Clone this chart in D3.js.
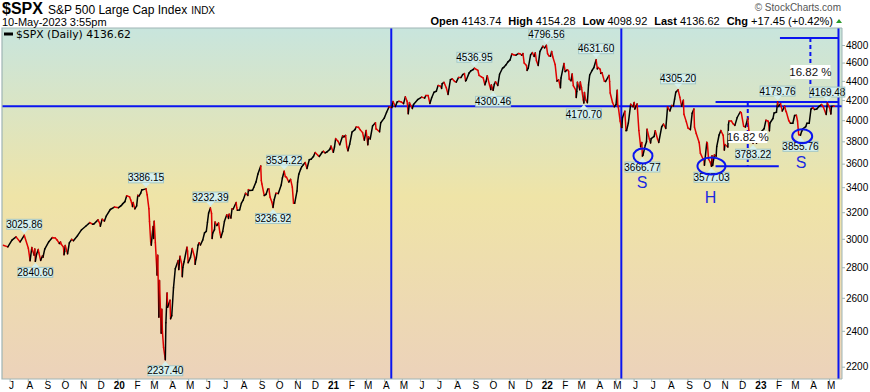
<!DOCTYPE html>
<html><head><meta charset="utf-8">
<script src="https://cdn.jsdelivr.net/npm/d3@7/dist/d3.min.js"></script>
<style>
body{margin:0;background:#fff;}
svg{display:block;font-family:"Liberation Sans",Arial,sans-serif;}
</style></head>
<body><svg id="c" width="870" height="392"></svg>
<script>
// ---------- DATA ----------
// weekly closes (plus swing points)
const dates = ["2019-06-20","2019-06-28","2019-07-05","2019-07-12","2019-07-19","2019-07-26","2019-08-02","2019-08-05","2019-08-09","2019-08-14","2019-08-16","2019-08-23","2019-08-30","2019-09-06","2019-09-13","2019-09-20","2019-09-27","2019-10-02","2019-10-04","2019-10-11","2019-10-18","2019-10-25","2019-11-01","2019-11-08","2019-11-15","2019-11-22","2019-11-29","2019-12-03","2019-12-06","2019-12-13","2019-12-20","2019-12-27",
"2020-01-03","2020-01-10","2020-01-17","2020-01-24","2020-01-31","2020-02-07","2020-02-14","2020-02-19","2020-02-21","2020-02-24","2020-02-25","2020-02-27","2020-02-28","2020-03-02","2020-03-03","2020-03-04","2020-03-06","2020-03-09","2020-03-10","2020-03-12","2020-03-13","2020-03-16","2020-03-17","2020-03-18","2020-03-20","2020-03-23","2020-03-24","2020-03-26","2020-03-27","2020-03-31","2020-04-01","2020-04-03","2020-04-06","2020-04-09","2020-04-14","2020-04-17","2020-04-21","2020-04-24","2020-04-29","2020-05-01","2020-05-08","2020-05-14","2020-05-15","2020-05-22","2020-05-29","2020-06-05","2020-06-08","2020-06-11","2020-06-12","2020-06-19","2020-06-26","2020-07-02","2020-07-10","2020-07-17","2020-07-24","2020-07-31","2020-08-07","2020-08-14","2020-08-21","2020-08-28","2020-09-02","2020-09-04","2020-09-08","2020-09-11","2020-09-18","2020-09-23","2020-09-25","2020-10-02","2020-10-09","2020-10-12","2020-10-16","2020-10-23","2020-10-30","2020-11-06","2020-11-13","2020-11-20","2020-11-27","2020-12-04","2020-12-11","2020-12-18","2020-12-24","2020-12-31",
"2021-01-08","2021-01-15","2021-01-22","2021-01-29","2021-02-05","2021-02-12","2021-02-19","2021-02-26","2021-03-04","2021-03-05","2021-03-12","2021-03-19","2021-03-26","2021-04-01","2021-04-09","2021-04-16","2021-04-23","2021-04-30","2021-05-07","2021-05-12","2021-05-14","2021-05-21","2021-05-28","2021-06-04","2021-06-11","2021-06-18","2021-06-25","2021-07-02","2021-07-09","2021-07-16","2021-07-19","2021-07-23","2021-07-30","2021-08-06","2021-08-13","2021-08-19","2021-08-27","2021-09-02","2021-09-10","2021-09-17","2021-09-20","2021-09-24","2021-09-30","2021-10-04","2021-10-08","2021-10-15","2021-10-22","2021-10-29","2021-11-05","2021-11-12","2021-11-19","2021-11-26","2021-11-30","2021-12-03","2021-12-10","2021-12-17","2021-12-20","2021-12-23","2021-12-31",
"2022-01-03","2022-01-07","2022-01-14","2022-01-21","2022-01-27","2022-01-28","2022-02-04","2022-02-11","2022-02-18","2022-02-23","2022-02-25","2022-03-04","2022-03-08","2022-03-11","2022-03-18","2022-03-25","2022-03-29","2022-04-01","2022-04-08","2022-04-14","2022-04-22","2022-04-26","2022-04-29","2022-05-04","2022-05-06","2022-05-11","2022-05-13","2022-05-20","2022-05-27","2022-06-03","2022-06-10","2022-06-16","2022-06-17","2022-06-24","2022-07-01","2022-07-08","2022-07-14","2022-07-22","2022-07-29","2022-08-05","2022-08-12","2022-08-16","2022-08-19","2022-08-26","2022-09-02","2022-09-09","2022-09-12","2022-09-16","2022-09-23","2022-09-30","2022-10-04","2022-10-07","2022-10-12","2022-10-14","2022-10-21","2022-10-28","2022-11-04","2022-11-11","2022-11-18","2022-11-25","2022-12-01","2022-12-02","2022-12-09","2022-12-13","2022-12-16","2022-12-22","2022-12-23","2022-12-30",
"2023-01-05","2023-01-06","2023-01-13","2023-01-20","2023-01-27","2023-02-02","2023-02-03","2023-02-10","2023-02-17","2023-02-24","2023-03-03","2023-03-10","2023-03-13","2023-03-17","2023-03-24","2023-03-31","2023-04-06","2023-04-14","2023-04-21","2023-04-25","2023-04-28","2023-05-04","2023-05-05","2023-05-10"];
const closes = [2954,2942,2990,3014,2977,3025.86,2932,2845,2919,2840.60,2889,2847,2926,2979,3007,2992,2962,2887,2952,2970,2986,3023,3067,3093,3120,3110,3141,3093,3146,3169,3221,3240,
3235,3265,3330,3295,3226,3328,3380,3386.15,3338,3226,3128,2979,2954,3090,3003,3130,2972,2747,2882,2481,2711,2386,2529,2398,2305,2237.40,2447,2630,2541,2585,2471,2489,2664,2790,2846,2875,2737,2837,2940,2831,2930,2852,2864,2955,3044,3194,3232.39,3002,3041,3098,3009,3130,3185,3225,3216,3271,3351,3373,3397,3508,3580,3427,3332,3341,3319,3236.92,3298,3348,3477,3534.22,3483,3465,3270,3509,3585,3558,3638,3699,3663,3709,3703,3756,
3825,3768,3841,3714,3887,3934,3907,3811,3768,3842,3943,3913,3975,4020,4129,4185,4180,4181,4233,4063,4174,4156,4204,4230,4247,4166,4281,4352,4370,4327,4258,4412,4395,4437,4468,4406,4509,4536.95,4459,4433,4358,4455,4308,4300.46,4391,4471,4545,4605,4697,4683,4698,4595,4567,4538,4712,4620,4568,4726,4766,
4796.56,4677,4663,4398,4327,4432,4500,4419,4349,4226,4385,4329,4170.70,4204,4463,4543,4631.60,4546,4488,4393,4272,4175,4132,4300,4123,3935,4024,3901,4158,4109,3901,3666.77,3675,3912,3825,3899,3790,3962,4130,4145,4280,4305.20,4228,4058,3924,4067,4110,3873,3693,3586,3791,3640,3577.03,3583,3752,3901,3771,3993,3965,4026,4077,4072,3934,4019,3852,3783.22,3845,3840,
3808,3895,3999,3973,4071,4179.76,4136,4090,4079,3970,4046,3862,3855.76,3917,3971,4109,4105,4137,4133,4071,4169.48,4061,4136,4136.62];

// mid-week closes read between the weekly points
const extraDates = ["2019-08-08","2019-08-12","2019-08-13","2019-08-19","2019-08-20","2019-08-26","2019-08-27","2019-09-12","2019-09-17","2019-09-24","2019-09-26","2019-10-01","2019-10-03","2019-10-08","2019-10-15","2019-11-20","2019-12-02","2019-12-10",
"2020-01-06","2020-01-08","2020-01-14","2020-01-22","2020-01-27","2020-01-28","2020-02-03","2020-02-05","2020-02-10","2020-02-12","2020-04-15","2020-04-20","2020-04-22","2020-04-30","2020-05-05","2020-05-12","2020-05-13","2020-05-18","2020-05-20","2020-05-26","2020-06-01","2020-06-03","2020-06-10","2020-06-15","2020-06-16","2020-06-22","2020-06-24","2020-06-29","2020-07-06","2020-07-09","2020-07-13","2020-07-15","2020-07-22","2020-07-23","2020-07-28","2020-08-03","2020-08-11","2020-08-12","2020-08-19","2020-08-25","2020-09-03","2020-09-10","2020-09-14","2020-09-16","2020-09-21","2020-09-28","2020-10-07","2020-10-14","2020-10-20","2020-10-26","2020-10-28","2020-11-03","2020-11-04","2020-11-09","2020-11-11","2020-11-17","2020-11-24","2020-12-01","2020-12-09","2020-12-16","2020-12-21","2020-12-29",
"2021-01-04","2021-01-06","2021-01-12","2021-01-20","2021-01-25","2021-01-27","2021-02-01","2021-02-10","2021-02-16","2021-02-23","2021-02-25","2021-03-01","2021-03-08","2021-03-17","2021-03-18","2021-03-24","2021-04-05","2021-04-14","2021-04-20","2021-04-26","2021-05-04","2021-05-10","2021-05-19","2021-06-09","2021-06-15","2021-06-21","2021-06-29","2021-07-06","2021-07-08","2021-07-12","2021-07-26","2021-08-02","2021-08-10","2021-08-16","2021-08-18","2021-08-24","2021-08-31","2021-09-08","2021-09-14","2021-09-22","2021-09-28","2021-10-01","2021-10-06","2021-10-12","2021-10-20","2021-10-26","2021-11-02","2021-11-09","2021-11-16","2021-11-22","2021-11-24","2021-12-01","2021-12-07","2021-12-13","2021-12-15","2021-12-28",
"2022-01-05","2022-01-10","2022-01-12","2022-01-18","2022-01-24","2022-02-02","2022-02-08","2022-02-10","2022-02-14","2022-02-16","2022-02-22","2022-02-24","2022-03-01","2022-03-02","2022-03-07","2022-03-09","2022-03-14","2022-03-16","2022-03-22","2022-03-31","2022-04-05","2022-04-06","2022-04-12","2022-04-20","2022-04-21","2022-05-02","2022-05-05","2022-05-09","2022-05-12","2022-05-17","2022-05-19","2022-05-23","2022-05-31","2022-06-02","2022-06-07","2022-06-13","2022-06-15","2022-06-21","2022-06-23","2022-06-28","2022-06-30","2022-07-06","2022-07-12","2022-07-19","2022-07-26","2022-08-02","2022-08-08","2022-08-10","2022-08-22","2022-08-25","2022-08-30","2022-09-06","2022-09-13","2022-09-21","2022-09-27","2022-09-29","2022-10-05","2022-10-10","2022-10-13","2022-10-17","2022-10-20","2022-10-25","2022-11-01","2022-11-03","2022-11-09","2022-11-10","2022-11-15","2022-11-21","2022-11-30","2022-12-06","2022-12-15","2022-12-19","2022-12-21","2022-12-28",
"2023-01-03","2023-01-10","2023-01-17","2023-01-19","2023-01-25","2023-01-31","2023-02-07","2023-02-14","2023-02-16","2023-02-21","2023-02-28","2023-03-06","2023-03-08","2023-03-15","2023-03-22","2023-03-28","2023-04-03","2023-04-10","2023-04-18","2023-04-26","2023-05-02","2023-05-03","2023-05-08"];
const extraCloses = [2938,2883,2926,2923,2900,2878,2869,3009,3006,2966,2977,2940,2910,2893,2996,3108,3114,3132,
3246,3253,3283,3321,3244,3276,3249,3334,3352,3379,2784,2823,2799,2912,2868,2870,2820,2954,2972,2992,3055,3123,3190,3067,3125,3117,3050,3053,3180,3152,3155,3227,3276,3236,3218,3295,3333,3380,3375,3444,3455,3339,3383,3385,3281,3351,3419,3489,3443,3400,3271,3369,3443,3550,3573,3610,3635,3662,3672,3701,3695,3727,
3700,3748,3801,3851,3855,3750,3774,3910,3932,3881,3829,3901,3821,3974,3915,3889,4077,4124,4134,4187,4164,4188,4115,4220,4246,4224,4291,4343,4320,4384,4422,4387,4436,4479,4400,4486,4523,4514,4443,4395,4352,4357,4363,4351,4537,4575,4630,4685,4701,4682,4701,4513,4686,4669,4709,4786,
4700,4670,4726,4577,4410,4589,4521,4504,4401,4475,4304,4288,4306,4387,4201,4278,4173,4357,4512,4530,4525,4481,4397,4459,4393,4155,4147,3991,3930,4088,3900,3973,4132,4176,4161,3750,3790,3765,3796,3821,3785,3845,3819,3937,3921,4091,4140,4210,4138,4199,3986,3909,3933,3789,3647,3640,3783,3612,3669,3677,3665,3859,3856,3720,3748,3956,3992,3950,4080,3941,3895,3818,3879,3783,
3825,3919,3990,3899,4016,4077,4164,4137,4090,3997,3970,4048,3992,3892,3937,3971,4124,4110,4155,4056,4119,4091,4138];

// swing-point callouts: date, value, side (a = above, b = below)
const calloutDates  = ["2019-07-26","2019-08-14","2020-02-19","2020-03-23","2020-06-08","2020-09-23","2020-10-12","2021-09-02","2021-10-04","2022-01-03","2022-03-08","2022-03-29","2022-06-16","2022-08-16","2022-10-12","2022-12-22","2023-02-02","2023-03-13","2023-04-28"];
const calloutValues = [3025.86,2840.60,3386.15,2237.40,3232.39,3236.92,3534.22,4536.95,4300.46,4796.56,4170.70,4631.60,3666.77,4305.20,3577.03,3783.22,4179.76,3855.76,4169.48];
const calloutSides  = ["a","b","a","b","a","b","a","a","b","a","b","a","b","a","b","b","a","b","a"];

const yTicks = [2200,2400,2600,2800,3000,3200,3400,3600,3800,4000,4200,4400,4600,4800];
const lastClose = 4136.62;
const headerStats = [["Open","4143.74"],["High","4154.28"],["Low","4098.92"],["Last","4136.62"],["Chg","+17.45 (+0.42%)"]];

// pattern annotations (date, value)
const vLineDates = ["2021-04-13","2022-05-11","2023-05-17"];
const necklineValue = 4179.76, headLow = 3577.03, targetValue = 4882;
const shoulderMarks = [{d:"2022-06-17",v:3668,t:"S",rx:9.5,ry:7.5},{d:"2022-10-12",v:3579,t:"H",rx:14,ry:8.5},{d:"2023-03-16",v:3848,t:"S",rx:10,ry:7}];

// ---------- CHART ----------
const P = d3.utcParse("%Y-%m-%d");
const seen = new Set();
const data = dates.map((d,i)=>({s:d,v:closes[i]})).concat(extraDates.map((d,i)=>({s:d,v:extraCloses[i]})))
  .filter(o=>{ if(seen.has(o.s)) return false; seen.add(o.s); return true; })
  .map(o=>({d:P(o.s),v:o.v})).sort((a,b)=>a.d-b.d);
const svg = d3.select("#c");
const L=2,R=842,T=28,B=379;
const x = d3.scaleUtc().domain([P("2019-06-18"),P("2023-05-23")]).range([L,R]);
const y = d3.scaleLog().domain([2200,4800]).range([366.7,45]);

const defs = svg.append("defs");
const g = defs.append("linearGradient").attr("id","bg").attr("x1",0).attr("y1",0).attr("x2",0).attr("y2",1);
g.append("stop").attr("offset","0%").attr("stop-color","#c8e5dd");
g.append("stop").attr("offset","48%").attr("stop-color","#efe4a7");
g.append("stop").attr("offset","100%").attr("stop-color","#ecd2ba");
defs.append("clipPath").attr("id","clip").append("rect").attr("x",L).attr("y",T).attr("width",R-L).attr("height",B-T);

svg.append("rect").attr("x",L).attr("y",T).attr("width",R-L).attr("height",B-T).attr("fill","url(#bg)");

const plot = svg.append("g").attr("clip-path","url(#clip)");
const BLUE="#0a14f0";

plot.append("line").attr("x1",L).attr("x2",R).attr("y1",y(lastClose)).attr("y2",y(lastClose)).attr("stroke",BLUE).attr("stroke-width",2);
plot.selectAll(".vl").data(vLineDates).join("line").attr("x1",d=>x(P(d))).attr("x2",d=>x(P(d))).attr("y1",T).attr("y2",B).attr("stroke",BLUE).attr("stroke-width",2);
const xR = x(P(vLineDates[2]));
plot.append("line").attr("x1",x(P("2022-10-19"))).attr("x2",xR).attr("y1",y(necklineValue)).attr("y2",y(necklineValue)).attr("stroke",BLUE).attr("stroke-width",2);
plot.append("line").attr("x1",x(P("2022-10-19"))).attr("x2",x(P("2023-02-04"))).attr("y1",y(headLow)).attr("y2",y(headLow)).attr("stroke",BLUE).attr("stroke-width",2);
plot.append("line").attr("x1",x(P("2023-02-06"))).attr("x2",xR).attr("y1",y(targetValue)).attr("y2",y(targetValue)).attr("stroke",BLUE).attr("stroke-width",2);
plot.append("line").attr("x1",x(P("2022-12-13"))).attr("x2",x(P("2022-12-13"))).attr("y1",y(necklineValue)).attr("y2",y(headLow)).attr("stroke",BLUE).attr("stroke-width",2).attr("stroke-dasharray","4,3");
plot.append("line").attr("x1",x(P("2023-03-30"))).attr("x2",x(P("2023-03-30"))).attr("y1",y(targetValue)).attr("y2",y(necklineValue)).attr("stroke",BLUE).attr("stroke-width",2).attr("stroke-dasharray","4,3");

// price line, red on down, black on up
const segs = data.slice(1).map((d,i)=>({a:data[i],b:d}));
plot.selectAll(".seg").data(segs).join("line")
  .attr("x1",s=>x(s.a.d)).attr("y1",s=>y(s.a.v)).attr("x2",s=>x(s.b.d)).attr("y2",s=>y(s.b.v))
  .attr("stroke",s=>s.b.v<s.a.v?"#e00000":"#000").attr("stroke-width",1.5).attr("stroke-linecap","round");

function pctBox(cx,cy,w,h){
  plot.append("rect").attr("x",cx-w/2).attr("y",cy-h/2).attr("width",w).attr("height",h).attr("fill","#fff");
  plot.append("text").attr("x",cx).attr("y",cy+4).attr("text-anchor","middle").attr("font-size",11.5).attr("fill","#111").text("16.82 %");
}
pctBox(x(P("2022-12-13")),y(3840),39,12);
pctBox(x(P("2023-03-30")),y(4496),40,14);

const calG = svg.append("g");
const cal = calloutDates.map((d,i)=>({d:P(d),v:calloutValues[i],s:calloutSides[i]}));
cal.forEach(c=>{
  const px=x(c.d), py=y(c.v), w=35, h=10;
  const by = c.s==="a" ? py-6-h : py+6;
  const gg = calG.append("g");
  gg.append("rect").attr("x",px-w/2).attr("y",by).attr("width",w).attr("height",h).attr("fill","#d6f0ee").attr("stroke","#9fc4c4").attr("stroke-width",0.9);
  const tip = c.s==="a" ? [[px-4,by+h],[px+4,by+h],[px,py-1.5]] : [[px-4,by],[px+4,by],[px,py+1.5]];
  gg.append("path").attr("d","M"+tip.join("L")+"Z").attr("fill","#d6f0ee").attr("stroke","none");
  gg.append("text").attr("x",px).attr("y",by+8.6).attr("text-anchor","middle").attr("font-size",10).attr("fill","#000").text(c.v.toFixed(2));
});

shoulderMarks.forEach(m=>{
  const cx=x(P(m.d)), cy=y(m.v);
  svg.append("ellipse").attr("cx",cx).attr("cy",cy).attr("rx",m.rx).attr("ry",m.ry).attr("fill","none").attr("stroke",BLUE).attr("stroke-width",2);
  svg.append("text").attr("x",cx-1).attr("y",cy+m.ry+25+(m.t==="H"?3:0)).attr("text-anchor","middle").attr("font-size",16).attr("fill","#1a2ae0").text(m.t);
});

svg.append("line").attr("x1",4).attr("x2",13).attr("y1",34).attr("y2",34).attr("stroke","#000").attr("stroke-width",3);
svg.append("text").attr("x",16).attr("y",38).attr("font-family","DejaVu Sans").attr("font-size",10.8).attr("fill","#000").text("$SPX (Daily) " + lastClose.toFixed(2));

svg.append("path").attr("d",`M${R},${T}H${L}V${B}H${R}`).attr("fill","none").attr("stroke","#9fb5b5").attr("stroke-width",1.2);

const ya = svg.append("g").attr("transform",`translate(${R},0)`).call(d3.axisRight(y).tickValues(yTicks).tickSize(3).tickPadding(1).tickFormat(d3.format("d")));
ya.select(".domain").attr("stroke","#9fb5b5").attr("d",`M0,${T}V${B}`);
ya.selectAll(".tick line").attr("stroke","#9fb5b5");
ya.selectAll("text").attr("font-size",10).attr("fill","#000").attr("font-family","Liberation Sans, Arial");

const mnames="JFMAMJJASOND";
const xa = svg.append("g").attr("transform",`translate(0,${B})`).call(d3.axisBottom(x).ticks(d3.utcMonth.every(1)).tickSize(3).tickPadding(0)
  .tickFormat(d=>d.getUTCMonth()===0? String(d.getUTCFullYear()).slice(2) : mnames[d.getUTCMonth()]));
xa.select(".domain").remove();
xa.selectAll(".tick line").attr("stroke","#9fb5b5");
xa.selectAll("text").attr("font-size",10).attr("fill","#000").attr("dx",1.5).attr("font-family","Liberation Sans, Arial")
  .attr("font-weight",d=>d.getUTCMonth()===0?"bold":"normal");

const h = svg.append("text").attr("x",2).attr("y",14);
h.append("tspan").attr("font-size",16).attr("font-weight","bold").text("$SPX");
h.append("tspan").attr("dx",5).attr("font-size",12).text("S&P 500 Large Cap Index");
h.append("tspan").attr("dx",4).attr("font-size",10).text("INDX");
svg.append("text").attr("x",2).attr("y",26).attr("font-size",11).text("10-May-2023 3:55pm");
svg.append("text").attr("x",841).attr("y",11).attr("text-anchor","end").attr("font-size",10).attr("fill","#555").text("© StockCharts.com");
const st = svg.append("text").attr("x",833).attr("y",25).attr("text-anchor","end").attr("font-size",11);
headerStats.forEach((s,i)=>{
  st.append("tspan").attr("dx",i?7:0).attr("font-weight","bold").text(s[0]);
  st.append("tspan").attr("dx",3).text(s[1]);
});
svg.append("path").attr("d","M836,23L842,23L839,19Z").attr("fill","#2a9a2a");
</script></body></html>
